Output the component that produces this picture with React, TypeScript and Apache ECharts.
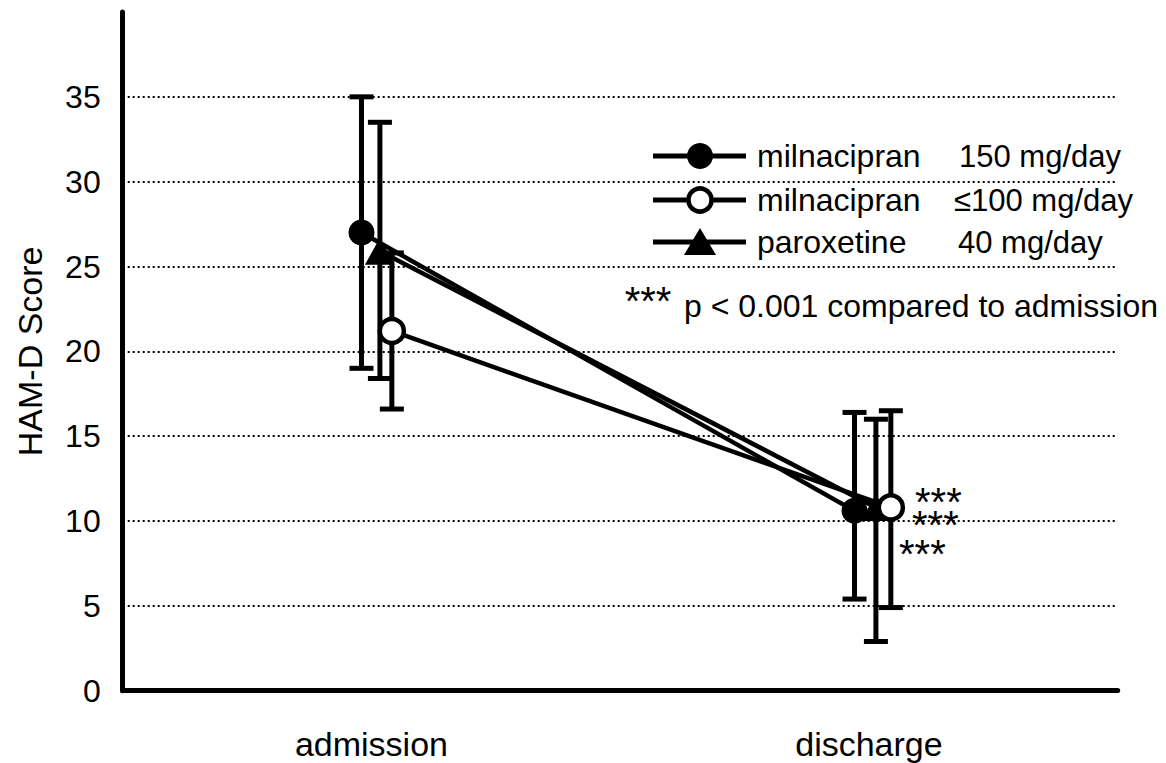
import React, { useEffect, useRef } from 'react';
import * as echarts from 'echarts';

// ---- data ----
const categories = ['admission', 'discharge'];
const milna150Mean = [27.0, 10.6];
const milna150Low = [19.0, 5.4];
const milna150High = [35.0, 16.4];
const milna100Mean = [21.2, 10.8];
const milna100Low = [16.6, 4.9];
const milna100High = [25.8, 16.5];
const paroxMean = [25.9, 10.8];
const paroxLow = [18.4, 2.9];
const paroxHigh = [33.5, 16.0];
const legendNames = ['milnacipran', 'milnacipran', 'paroxetine'];
const legendDoses = ['150 mg/day', '\u2264100 mg/day', '40 mg/day'];
const starLabel = '***';
const footnote = 'p < 0.001 compared to admission';
const yAxisName = 'HAM-D Score';

// ---- layout (horizontal jitter of each group, in category units) ----
const jitter150 = [-0.02, -0.029];
const jitterParox = [0.017, 0.014];
const jitter100 = [0.041, 0.044];

const FONT = 'Liberation Sans, Arial, sans-serif';

function pts(mean: number[], jit: number[]) {
  return mean.map((v, i) => [i + jit[i], v]);
}
function bars(lo: number[], hi: number[], jit: number[]) {
  return lo.map((v, i) => [i + jit[i], v, hi[i]]);
}

const errorRender = (params: any, api: any) => {
  const x = api.value(0);
  const pLo = api.coord([x, api.value(1)]);
  const pHi = api.coord([x, api.value(2)]);
  const cap = 24;
  const style = { stroke: '#000', lineWidth: 5 };
  return {
    type: 'group',
    children: [
      { type: 'line', shape: { x1: pLo[0], y1: pLo[1], x2: pHi[0], y2: pHi[1] }, style },
      { type: 'line', shape: { x1: pHi[0] - cap / 2, y1: pHi[1], x2: pHi[0] + cap / 2, y2: pHi[1] }, style },
      { type: 'line', shape: { x1: pLo[0] - cap / 2, y1: pLo[1], x2: pLo[0] + cap / 2, y2: pLo[1] }, style },
    ],
  };
};

export default function App() {
  const ref = useRef<HTMLDivElement>(null);
  useEffect(() => {
    if (!ref.current) return;
    const chart = echarts.init(ref.current, undefined, { renderer: 'svg' });
    const rows = [156, 200, 242];
    const legendGraphics: any[] = [];
    rows.forEach((y, i) => {
      legendGraphics.push({ type: 'line', shape: { x1: 653, y1: y, x2: 746, y2: y }, style: { stroke: '#000', lineWidth: 5 } });
      if (i === 0) legendGraphics.push({ type: 'circle', shape: { cx: 700, cy: y, r: 13 }, style: { fill: '#000' } });
      if (i === 1) legendGraphics.push({ type: 'circle', shape: { cx: 700, cy: y, r: 11.5 }, style: { fill: '#fff', stroke: '#000', lineWidth: 4.5 } });
      if (i === 2) legendGraphics.push({ type: 'polygon', shape: { points: [[684, y + 13], [716, y + 13], [700, y - 14]] }, style: { fill: '#000' } });
      legendGraphics.push({ type: 'text', x: 757, y, style: { text: legendNames[i], fontSize: 32, fontFamily: FONT, fill: '#000', align: 'left', verticalAlign: 'middle' } });
      legendGraphics.push({ type: 'text', x: i === 1 ? 954 : (i === 0 ? 959 : 958), y, style: { text: legendDoses[i], fontSize: 31, fontFamily: FONT, fill: '#000', align: 'left', verticalAlign: 'middle' } });
    });
    const starBlock = {
      type: 'text', x: 899, y: 492,
      style: {
        text: `{a|${starLabel}}\n{b|${starLabel}}\n{c|${starLabel}}`,
        fontSize: 40, fontFamily: FONT, fill: '#000', align: 'left', verticalAlign: 'top',
        rich: {
          a: { fontSize: 40, fontFamily: FONT, lineHeight: 20, padding: [0, 0, 0, 16] },
          b: { fontSize: 40, fontFamily: FONT, lineHeight: 26, padding: [0, 0, 0, 13] },
          c: { fontSize: 40, fontFamily: FONT, lineHeight: 32 },
        },
      },
    };
    const graphics = [
      ...legendGraphics,
      { type: 'text', x: 648, y: 301, style: { text: starLabel, fontSize: 40, lineHeight: 20, fontFamily: FONT, fill: '#000', align: 'center', verticalAlign: 'middle' } },
      { type: 'text', x: 684, y: 306, style: { text: footnote, fontSize: 32, fontFamily: FONT, fill: '#000', align: 'left', verticalAlign: 'middle' } },
      starBlock,
    ];

    chart.setOption({
      animation: false,
      textStyle: { fontFamily: FONT, color: '#000' },
      grid: { left: 122.7, right: 48.3, top: 12, bottom: 72.3, containLabel: false },
      xAxis: [
        {
          type: 'value', min: -0.5, max: 1.5, position: 'bottom',
          axisLine: { show: true, onZero: false, lineStyle: { color: '#000', width: 5 } },
          axisTick: { show: false }, axisLabel: { show: false }, splitLine: { show: false },
        },
        {
          type: 'category', data: categories, boundaryGap: true, position: 'bottom',
          axisLine: { show: false }, axisTick: { show: false }, splitLine: { show: false },
          axisLabel: { fontSize: 34, color: '#000', margin: 36, fontFamily: FONT },
        },
      ],
      yAxis: {
        type: 'value', min: 0, max: 40, interval: 5,
        name: yAxisName, nameLocation: 'middle', nameGap: 76, nameRotate: 90,
        nameTextStyle: { fontSize: 34, color: '#000', fontFamily: FONT },
        axisLine: { show: true, onZero: false, lineStyle: { color: '#000', width: 5 } },
        axisTick: { show: false },
        axisLabel: { fontSize: 32, color: '#000', margin: 22, showMaxLabel: false, fontFamily: FONT, padding: [8, 0, 0, 0] },
        splitLine: { show: true, showMinLine: false, showMaxLine: false, lineStyle: { color: '#000', width: 2, type: [2, 3] } },
      },
      series: [
        { type: 'custom', name: 'err150', renderItem: errorRender, data: bars(milna150Low, milna150High, jitter150), encode: { x: 0, y: [1, 2] }, z: 1 },
        { type: 'custom', name: 'errParox', renderItem: errorRender, data: bars(paroxLow, paroxHigh, jitterParox), encode: { x: 0, y: [1, 2] }, z: 1 },
        { type: 'custom', name: 'err100', renderItem: errorRender, data: bars(milna100Low, milna100High, jitter100), encode: { x: 0, y: [1, 2] }, z: 1 },
        {
          type: 'line', name: 'paroxetine 40 mg/day', data: pts(paroxMean, jitterParox), z: 3,
          symbol: 'triangle', symbolSize: [30, 27], showAllSymbol: true,
          lineStyle: { color: '#000', width: 4.5 }, itemStyle: { color: '#000', borderWidth: 0 },
        },
        {
          type: 'line', name: 'milnacipran 150 mg/day', data: pts(milna150Mean, jitter150), z: 4,
          symbol: 'circle', symbolSize: 26, showAllSymbol: true,
          lineStyle: { color: '#000', width: 4.5 }, itemStyle: { color: '#000', borderWidth: 0 },
        },
        {
          type: 'line', name: 'milnacipran \u2264100 mg/day', data: pts(milna100Mean, jitter100), z: 5,
          symbol: 'circle', symbolSize: 24, showAllSymbol: true,
          lineStyle: { color: '#000', width: 4.5 }, itemStyle: { color: '#fff', borderColor: '#000', borderWidth: 4.5 },
        },
      ],
      graphic: graphics,
    });
    return () => chart.dispose();
  }, []);
  return <div ref={ref} style={{ position: 'fixed', left: 0, top: 0, width: 1166, height: 763, background: '#fff' }} />;
}
